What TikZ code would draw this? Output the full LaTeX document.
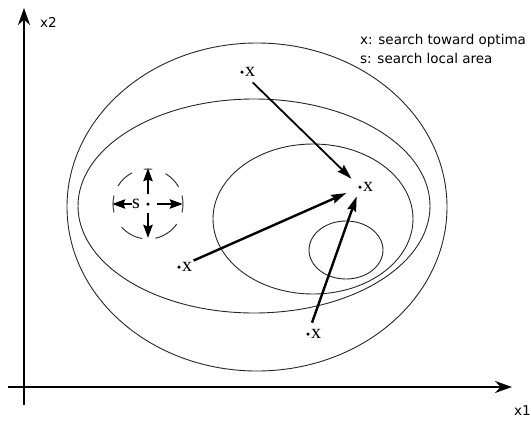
\documentclass[tikz,border=0pt]{standalone}
\usepackage{fontspec}
\setmainfont{Liberation Serif}
\setsansfont{DejaVu Sans}
\usetikzlibrary{arrows.meta, positioning}

\begin{document}
\begin{tikzpicture}[x=1pt, y=-1pt,
  level/.style={draw=black!85, line width=0.9pt},
  axis/.style={-{Stealth[length=17pt, width=12pt]}, line width=1.8pt},
  move/.style={-{Stealth[length=15pt, width=9pt, inset=2pt]}, line width=2.4pt},
  probe/.style={-{Stealth[length=13pt, width=9pt, inset=1.5pt]}, line width=2.6pt},
  pt/.style={circle, fill, inner sep=0pt, minimum size=3.5pt},
  lbl/.style={font=\fontsize{20}{20}\selectfont, inner sep=0pt},
  legend/.style={font=\sffamily\fontsize{13.5}{15}\selectfont, anchor=west, inner sep=0pt}
]
\useasboundingbox (0,0) rectangle (531,421);

% axes
\coordinate (ybot)   at (24,405);
\coordinate (ytop)   at (24,8);
\coordinate (xleft)  at (8,387);
\coordinate (xright) at (512,387);
\draw[axis] (ybot) -- (ytop);
\draw[axis] (xleft) -- (xright);
\node[legend] (x2) at (40,22)  {x2};
\node[legend] (x1) at (514,411) {x1};

% contours
\draw[level] (257,207) ellipse [x radius=190, y radius=164];
\draw[level] (254,206) ellipse [x radius=176, y radius=107];
\draw[level] (313,219) ellipse [x radius=100, y radius=75];
\draw[level] (346,250) ellipse [x radius=37, y radius=29];

% legend
\node[legend] (lx) at (360,41) {x: search toward optima};
\node[legend, below=5pt of lx.south west, anchor=north west] (ls) {s: search local area};

% points moving toward the optimum
\node[pt] (xt) at (360,187) {};
\node[pt] (xa) at (242,72)  {};
\node[pt] (xb) at (179,267) {};
\node[pt] (xc) at (308,334) {};
\node[lbl, right=1pt of xt] (xtl) {x};
\node[lbl, right=1pt of xa] (xal) {x};
\node[lbl, right=1pt of xb] (xbl) {x};
\node[lbl, right=1pt of xc] (xcl) {x};

\draw[move, line width=1.8pt, shorten <=13pt, shorten >=10pt] (xa) -- (xt);
\draw[move, shorten <=14pt, shorten >=13pt] (xb) -- (xt);
\draw[move, shorten <=10pt, shorten >=8pt] (xc) -- (xt);

% local search
\node[pt] (sc) at (148,204) {};
\node[lbl, left=6pt of sc] (s) {s};
\coordinate (sn) at (148,168);
\coordinate (ss) at (148,238);
\coordinate (sw) at (112,204);
\coordinate (se) at (183,204);
\draw[probe, shorten <=8pt] (sc) -- (sn);
\draw[probe, shorten <=7pt] (sc) -- (ss);
\draw[probe, shorten <=7pt] (sc) -- (se);
\draw[probe] (s) -- (sw);
\foreach \a/\b in {-60/-29, -149/-117, 100/139, 35/78, -97/-83, 166/194, -14/14}
  \draw[level] (sc) ++(\a:35) arc [start angle=\a, end angle=\b, radius=35];
\end{tikzpicture}
\end{document}
